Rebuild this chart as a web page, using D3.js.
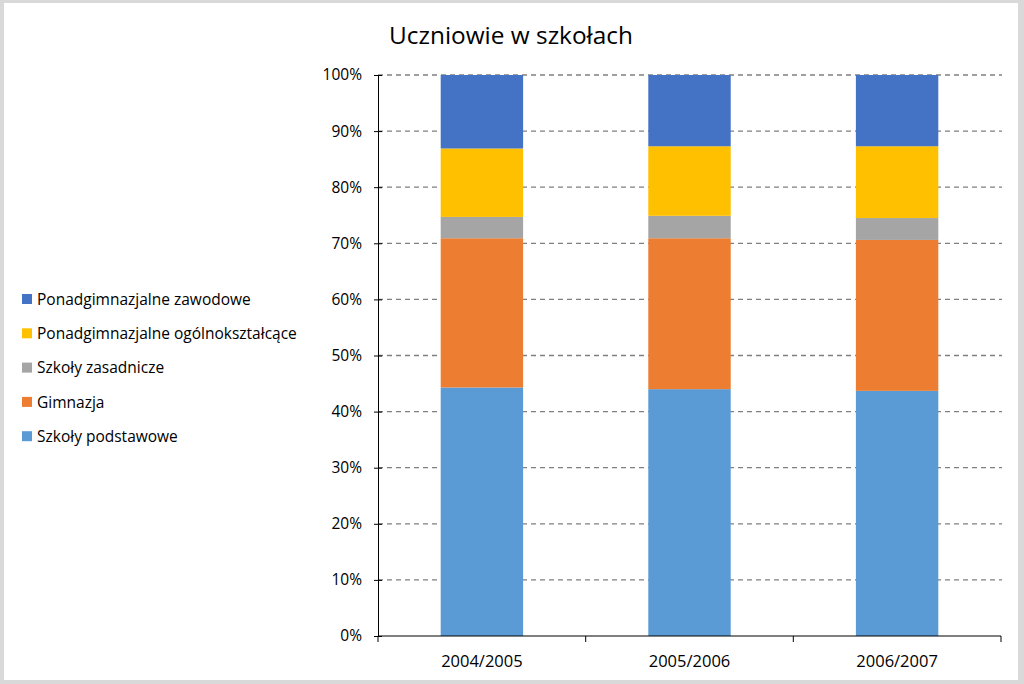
<!DOCTYPE html>
<html>
<head>
<meta charset="utf-8">
<script src="https://cdn.jsdelivr.net/npm/d3@7"></script>
<style>
  body { margin: 0; background: #fff; }
  text { font-family: "Open Sans", "Noto Sans", sans-serif; }
</style>
</head>
<body>
<div id="chart"></div>
<script>
// data (shares in %)
const years = ['2004/2005', '2005/2006', '2006/2007'];
const legendNames = ['Szkoły podstawowe', 'Gimnazja', 'Szkoły zasadnicze',
  'Ponadgimnazjalne ogólnokształcące', 'Ponadgimnazjalne zawodowe'];
const podstawowe = [44.3, 44.0, 43.7];
const gimnazja = [26.6, 26.9, 26.9];
const zasadnicze = [3.8, 4.0, 3.9];
const ogolnoksztalcace = [12.2, 12.4, 12.8];
const zawodowe = [13.1, 12.7, 12.7];
const yTicks = [0, 10, 20, 30, 40, 50, 60, 70, 80, 90, 100];
const colors = ['#5B9BD5', '#ED7D31', '#A5A5A5', '#FFC000', '#4472C4'];

const width = 1024, height = 684;
const svg = d3.select('#chart').append('svg')
  .attr('width', width).attr('height', height);

// frame
svg.append('rect').attr('width', width).attr('height', height).attr('fill', '#d9d9d9');
svg.append('rect').attr('x', 4).attr('y', 3).attr('width', 1014).attr('height', 677).attr('fill', '#fff');

// title
svg.append('text').attr('x', 511).attr('y', 44).attr('text-anchor', 'middle')
  .attr('font-size', 24.4).attr('fill', '#000').text('Uczniowie w szkołach');

const plotLeft = 378, plotRight = 1001, plotTop = 75, plotBottom = 636;

const x = d3.scaleBand().domain(years).range([plotLeft, plotRight]).paddingInner(0.603).paddingOuter(0.302);
const y = d3.scaleLinear().domain([0, 100]).range([plotBottom, plotTop]);

// table for stack
const table = years.map((yr, i) => ({
  year: yr,
  s0: podstawowe[i], s1: gimnazja[i], s2: zasadnicze[i], s3: ogolnoksztalcace[i], s4: zawodowe[i]
}));
const stack = d3.stack().keys(['s0', 's1', 's2', 's3', 's4']);
const layers = stack(table);

// gridlines
svg.append('g').selectAll('line').data(yTicks.filter(t => t > 0)).enter().append('line')
  .attr('x1', plotLeft).attr('x2', plotRight + 1)
  .attr('y1', d => y(d)).attr('y2', d => y(d))
  .attr('stroke', '#808080').attr('stroke-width', 1.3).attr('stroke-dasharray', '5,4');

// bars
svg.append('g').selectAll('g').data(layers).enter().append('g')
  .attr('fill', (d, i) => colors[i])
  .selectAll('rect').data(d => d).enter().append('rect')
  .attr('x', d => x(d.data.year))
  .attr('width', x.bandwidth())
  .attr('y', d => y(d[1]))
  .attr('height', d => y(d[0]) - y(d[1]));

// y axis
const yAxis = svg.append('g').attr('transform', `translate(${plotLeft},0)`)
  .call(d3.axisLeft(y).tickValues(yTicks).tickFormat(d => d + '%').tickSizeInner(4).tickSizeOuter(0).tickPadding(12));
yAxis.select('.domain').attr('stroke', '#000');
yAxis.selectAll('.tick line').attr('x2', 4).attr('x1', -4).attr('stroke', '#000');
yAxis.selectAll('.tick text').attr('font-size', 15.5).attr('fill', '#000')
  .attr('font-family', '"Open Sans", sans-serif');

// x axis
const xg = svg.append('g').attr('transform', `translate(0,${plotBottom})`);
xg.append('line').attr('x1', plotLeft).attr('x2', plotRight).attr('stroke', '#000');
const bounds = [plotLeft, ...years.map(yr => x(yr) + x.bandwidth() + x.step() * x.paddingInner() / 2)];
bounds[bounds.length - 1] = plotRight;
xg.selectAll('.tk').data(bounds).enter().append('line')
  .attr('x1', d => d).attr('x2', d => d).attr('y1', 0).attr('y2', 6).attr('stroke', '#000');
xg.selectAll('.lbl').data(years).enter().append('text')
  .attr('x', d => x(d) + x.bandwidth() / 2).attr('y', 31)
  .attr('text-anchor', 'middle').attr('font-size', 16.5).attr('fill', '#000').text(d => d);

// legend (reverse order)
const legOrder = [4, 3, 2, 1, 0];
const leg = svg.append('g').selectAll('g').data(legOrder).enter().append('g')
  .attr('transform', (d, i) => `translate(22,${299 + i * 34.3})`);
leg.append('rect').attr('x', 0).attr('y', -5).attr('width', 10).attr('height', 10)
  .attr('fill', d => colors[d]);
leg.append('text').attr('x', 15).attr('y', 5.8).attr('font-size', 15.5).attr('fill', '#000')
  .text(d => legendNames[d]);
</script>
</body>
</html>
